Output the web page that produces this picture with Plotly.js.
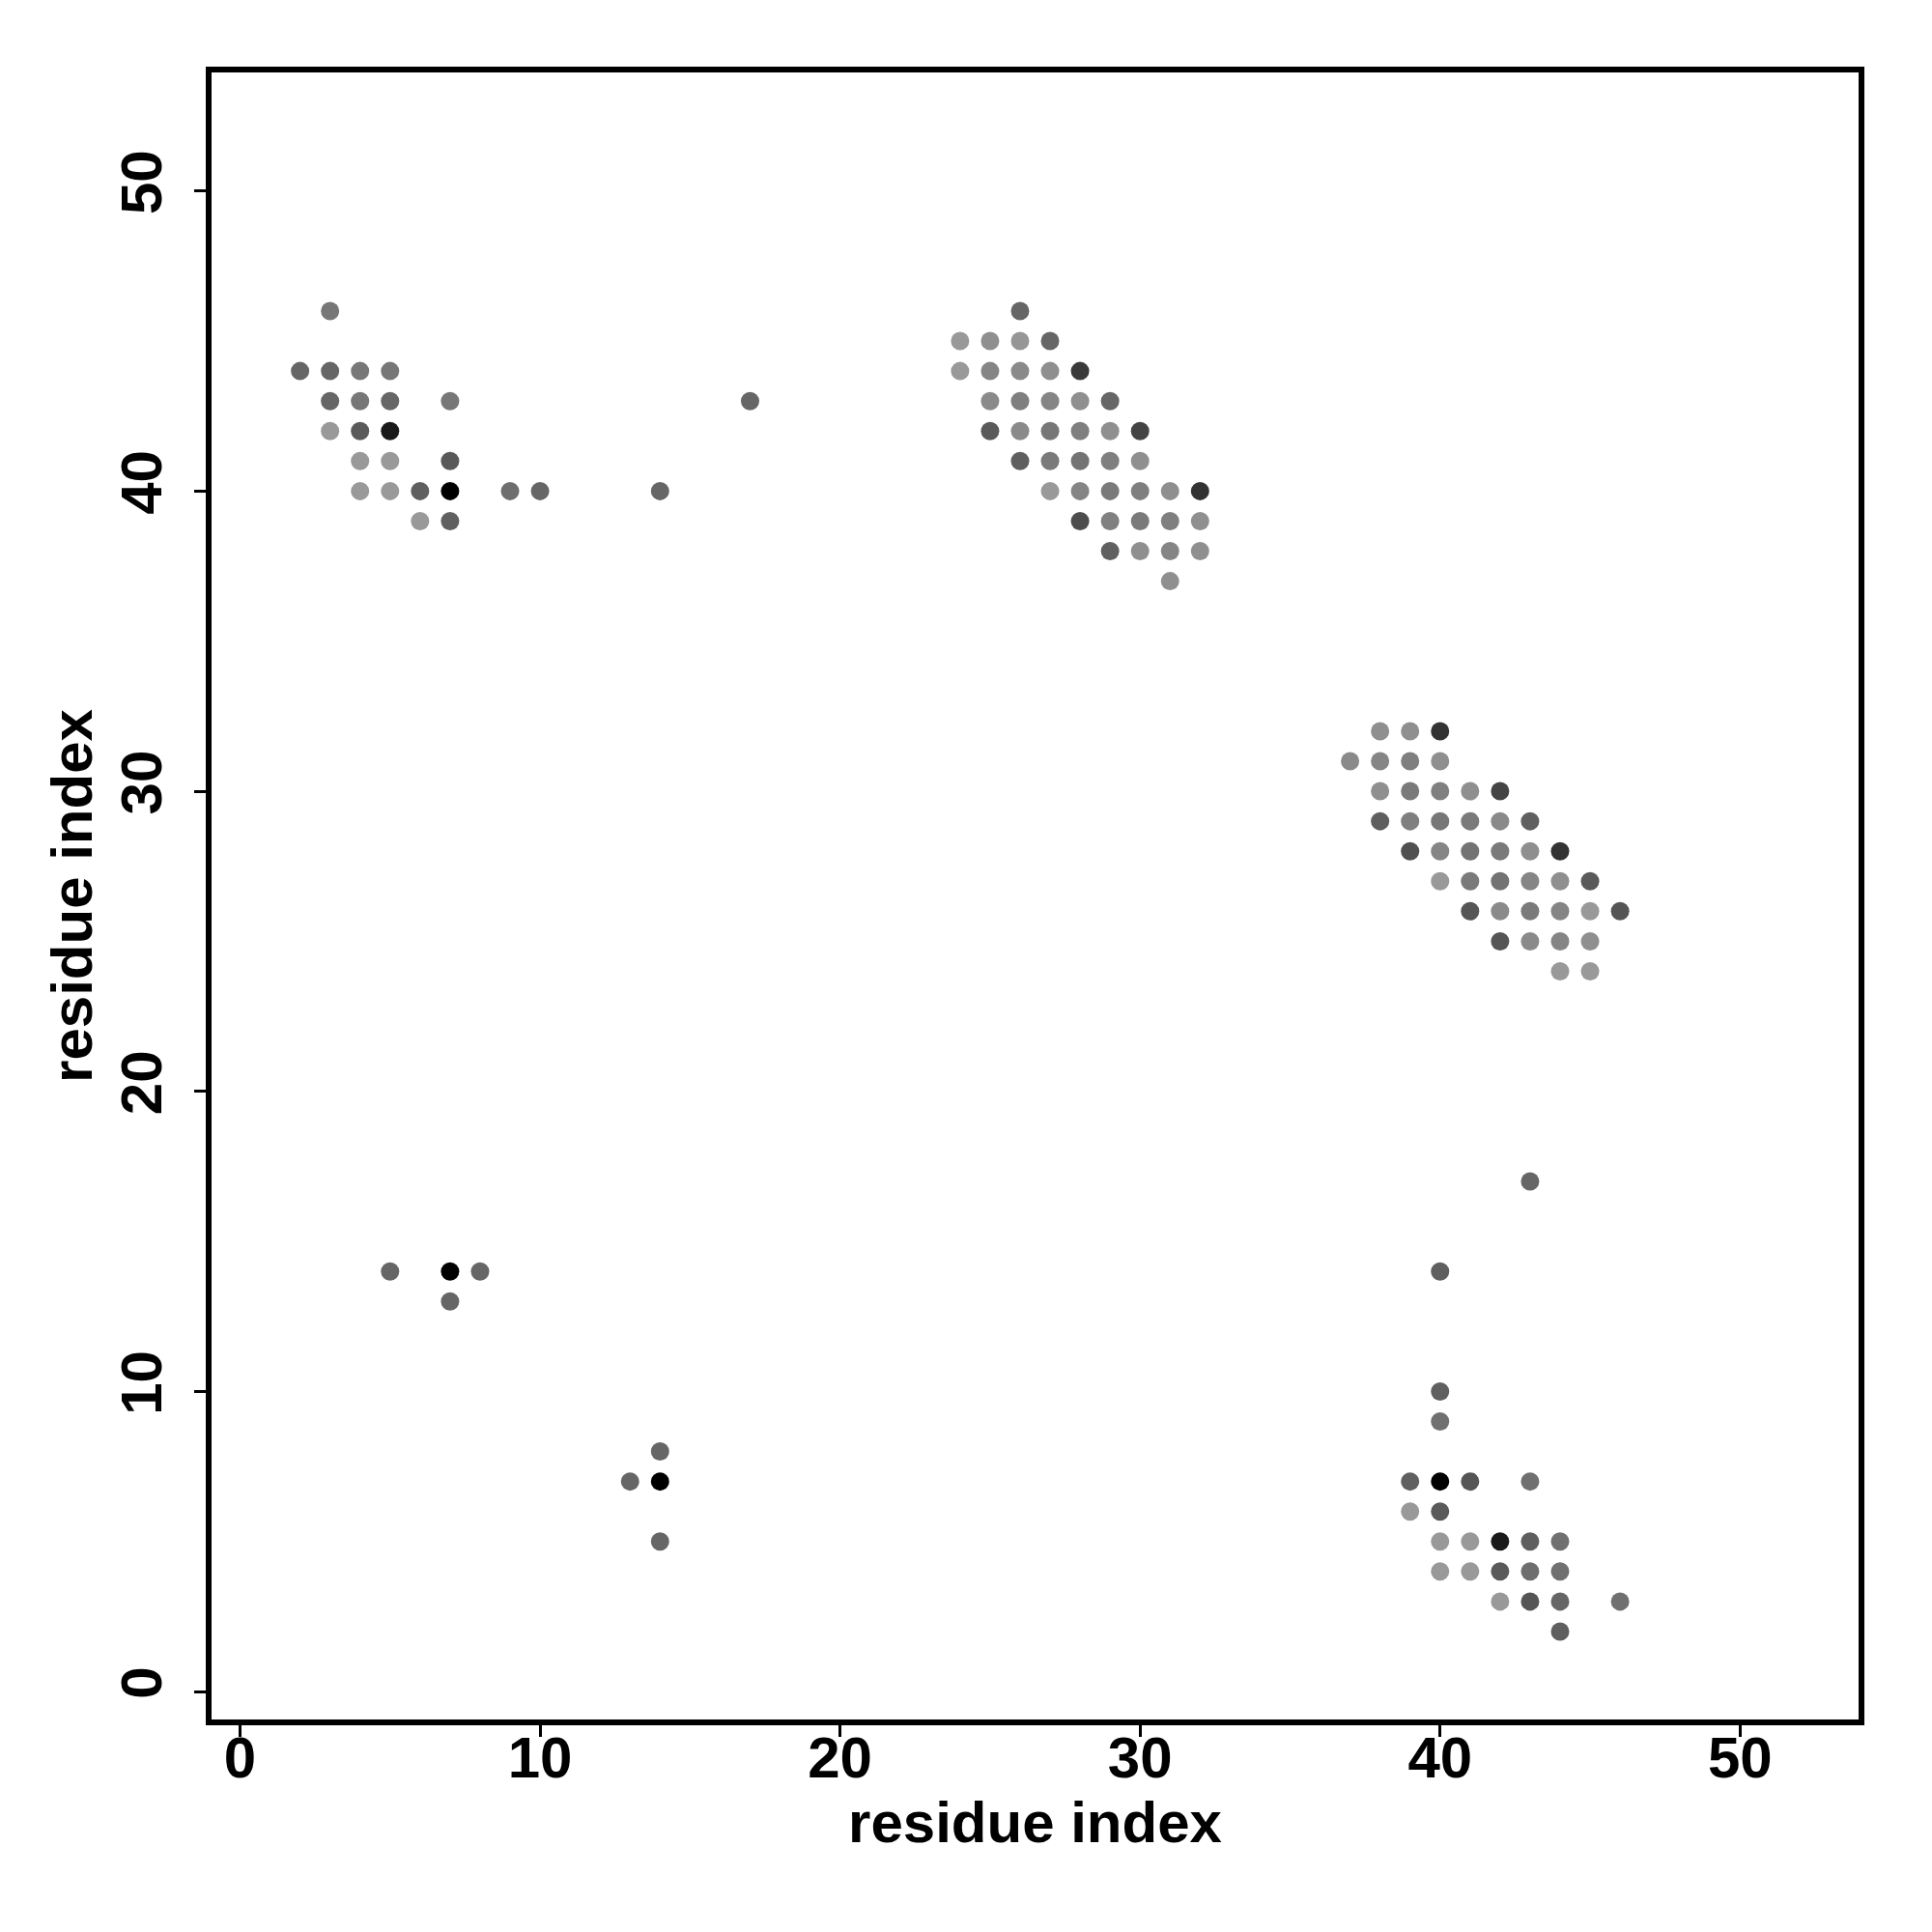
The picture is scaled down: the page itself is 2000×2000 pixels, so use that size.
<!DOCTYPE html>
<html>
<head>
<meta charset="utf-8">
<script src="https://cdn.plot.ly/plotly-3.0.1.min.js"></script>
<style>html,body{margin:0;padding:0;background:#fff;}</style>
</head>
<body>
<div id="chart" style="width:2000px;height:2000px;"></div>
<script>
// residue i (x), residue j (y), gray level of the contact (0 = black, 255 = white)
const xIdx = [
  3, 2,3,4,5, 3,4,5,7,17, 3,4,5, 4,5,7, 4,5,6,7,9,10,14, 6,7,
  26, 24,25,26,27, 24,25,26,27,28, 25,26,27,28,29, 25,26,27,28,29,30,
  26,27,28,29,30, 27,28,29,30,31,32, 28,29,30,31,32, 29,30,31,32, 31,
  38,39,40, 37,38,39,40, 38,39,40,41,42, 38,39,40,41,42,43,
  39,40,41,42,43,44, 40,41,42,43,44,45, 41,42,43,44,45,46,
  42,43,44,45, 44,45,
  5,7,8, 7, 14, 13,14, 14,
  43, 40, 40, 40, 39,40,41,43, 39,40, 40,41,42,43,44, 40,41,42,43,44,
  42,43,44,46, 44
];
const yIdx = [
  46, 44,44,44,44, 43,43,43,43,43, 42,42,42, 41,41,41, 40,40,40,40,40,40,40, 39,39,
  46, 45,45,45,45, 44,44,44,44,44, 43,43,43,43,43, 42,42,42,42,42,42,
  41,41,41,41,41, 40,40,40,40,40,40, 39,39,39,39,39, 38,38,38,38, 37,
  32,32,32, 31,31,31,31, 30,30,30,30,30, 29,29,29,29,29,29,
  28,28,28,28,28,28, 27,27,27,27,27,27, 26,26,26,26,26,26,
  25,25,25,25, 24,24,
  14,14,14, 13, 8, 7,7, 5,
  17, 14, 10, 9, 7,7,7,7, 6,6, 5,5,5,5,5, 4,4,4,4,4,
  3,3,3,3, 2
];
const grayLevel = [
  119, 102,102,119,119, 102,119,102,119,102, 153,90,26, 153,153,89, 153,153,95,0,110,102,102, 153,96,
  102, 153,143,150,102, 153,133,138,143,58, 138,127,133,143,102, 90,138,119,127,143,68,
  95,122,115,127,143, 153,133,122,127,143,51, 77,128,122,127,143, 96,143,133,143, 143,
  143,143,51, 138,133,127,143, 143,122,128,143,68, 95,127,119,122,138,96,
  80,133,115,122,143,51, 153,122,115,133,143,90, 85,138,122,133,153,85,
  85,138,133,143, 153,153,
  102,0,102, 102, 102, 102,0, 102,
  102, 95, 96, 112, 96,0,85,112, 153,90, 153,153,26,95,112, 153,153,90,110,112,
  153,85,102,112, 95
];

const markerColors = grayLevel.map(g => `rgb(${g},${g},${g})`);

const trace = {
  type: 'scatter',
  mode: 'markers',
  x: xIdx,
  y: yIdx,
  marker: {size: 19, color: markerColors, line: {width: 0}},
  hoverinfo: 'x+y'
};

const fontBase = {family: '"Liberation Sans", Arial, Helvetica, sans-serif', size: 60, color: '#000', weight: 'bold'};

const axisCommon = {
  showgrid: false,
  zeroline: false,
  showline: true,
  linecolor: '#000',
  linewidth: 6,
  mirror: true,
  ticks: 'outside',
  ticklen: 12,
  tickwidth: 3,
  tickcolor: '#000',
  tickmode: 'array',
  tickvals: [0, 10, 20, 30, 40, 50],
  ticktext: ['0', '10', '20', '30', '40', '50'],
  tickfont: fontBase,
  automargin: false
};

const layout = {
  width: 2000,
  height: 2000,
  margin: {l: 219, r: 76, t: 75, b: 220},
  paper_bgcolor: '#fff',
  plot_bgcolor: '#fff',
  showlegend: false,
  xaxis: Object.assign({}, axisCommon, {
    range: [-0.95, 53.95],
    ticklabelstandoff: -30,
    title: {text: 'residue index', font: fontBase, standoff: 12}
  }),
  yaxis: Object.assign({}, axisCommon, {
    range: [-0.93, 53.95],
    tickangle: -90,
    ticklabelstandoff: 10,
    title: {text: 'residue index', font: fontBase, standoff: 0}
  })
};

Plotly.newPlot('chart', [trace], layout, {displayModeBar: false, staticPlot: true});
</script>
</body>
</html>
